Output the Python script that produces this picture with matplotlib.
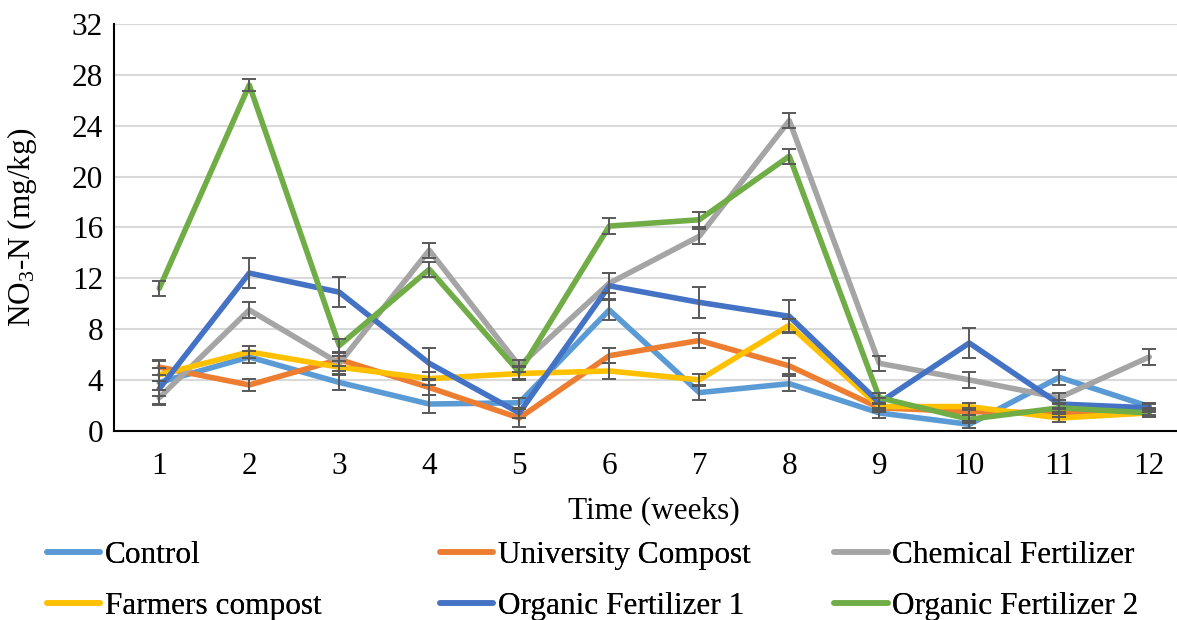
import matplotlib.pyplot as plt
import numpy as np

plt.rcParams['font.family'] = ['Liberation Serif', 'DejaVu Serif']
plt.rcParams['mathtext.fontset'] = 'custom'
plt.rcParams['mathtext.rm'] = 'Liberation Serif'
plt.rcParams['mathtext.it'] = 'Liberation Serif:italic'

weeks = np.arange(1, 13)

control = [3.8, 5.8, 3.8, 2.1, 2.2, 9.5, 3.0, 3.7, 1.4, 0.5, 4.2, 1.9]
control_err = [1.7, 0.5, 0.6, 0.7, 0.4, 0.8, 0.6, 0.6, 0.4, 0.3, 0.6, 0.3]

university = [5.0, 3.6, 5.6, 3.4, 1.0, 5.9, 7.1, 5.1, 1.8, 1.5, 1.4, 1.5]
university_err = [0.6, 0.5, 0.5, 0.6, 0.7, 0.6, 0.6, 0.6, 0.3, 0.3, 0.3, 0.3]

chemical = [2.6, 9.5, 5.3, 14.2, 5.1, 11.6, 15.3, 24.4, 5.3, 4.0, 2.6, 5.8]
chemical_err = [0.6, 0.6, 0.6, 0.6, 0.5, 0.8, 0.6, 0.6, 0.6, 0.6, 0.4, 0.6]

farmers = [4.4, 6.2, 5.0, 4.1, 4.5, 4.7, 4.0, 8.3, 1.9, 1.9, 1.0, 1.4]
farmers_err = [0.5, 0.5, 0.5, 0.5, 0.5, 0.6, 0.5, 0.5, 0.3, 0.3, 0.3, 0.3]

organic1 = [3.3, 12.4, 10.9, 5.3, 1.4, 11.4, 10.1, 9.0, 2.2, 6.9, 2.1, 1.8]
organic1_err = [0.6, 1.2, 1.2, 1.2, 0.4, 1.0, 1.2, 1.3, 0.4, 1.2, 0.3, 0.3]

organic2 = [11.2, 27.2, 6.7, 12.7, 4.6, 16.1, 16.6, 21.6, 2.6, 0.9, 1.8, 1.4]
organic2_err = [0.6, 0.5, 0.5, 0.6, 0.5, 0.6, 0.6, 0.6, 0.4, 0.3, 0.3, 0.3]

series = [
    ("Control", control, control_err, "#5b9bd5"),
    ("University Compost", university, university_err, "#ed7d31"),
    ("Chemical Fertilizer", chemical, chemical_err, "#a5a5a5"),
    ("Farmers compost", farmers, farmers_err, "#ffc000"),
    ("Organic Fertilizer 1", organic1, organic1_err, "#4472c4"),
    ("Organic Fertilizer 2", organic2, organic2_err, "#70ad47"),
]

FS = 22.5

fig = plt.figure(figsize=(11.77, 6.2), dpi=100)
ax = fig.add_axes([0.0971, 0.3053, 0.9176, 0.656])

handles = {}
for name, vals, err, color in series:
    line, = ax.plot(weeks, vals, color=color, linewidth=4.0, solid_joinstyle='round',
                    solid_capstyle='round', zorder=3)
    ax.errorbar(weeks, vals, yerr=err, fmt='none', ecolor='#595959', elinewidth=1.4,
                capsize=5, capthick=1.4, zorder=4)
    handles[name] = line

ax.set_xlim(0.5, 12.5)
ax.set_ylim(0, 32)
ax.set_yticks(np.arange(0, 33, 4))
ax.set_xticks(weeks)
ax.yaxis.grid(True, color='#d9d9d9', linewidth=1.5)
ax.set_axisbelow(True)
for s in ['top', 'right']:
    ax.spines[s].set_visible(False)
ax.spines['left'].set_linewidth(1.5)
ax.spines['bottom'].set_linewidth(1.5)
ax.tick_params(axis='x', length=0, pad=15, labelsize=FS)
ax.tick_params(axis='y', length=0, pad=8, labelsize=FS)

ax.set_xlabel("Time (weeks)", fontsize=FS, labelpad=11)
fig.text(0.019, 0.3053 + 0.656 / 2, r"NO$_{\mathrm{3}}$-N (mg/kg)", fontsize=FS,
         rotation=90, ha='center', va='center')

# legend in three columns, placed separately like the original
columns = [
    ["Control", "Farmers compost"],
    ["University Compost", "Organic Fertilizer 1"],
    ["Chemical Fertilizer", "Organic Fertilizer 2"],
]
col_x = [0.040, 0.374, 0.709]
for names, x in zip(columns, col_x):
    leg = fig.legend([handles[n] for n in names], names, loc='upper left',
                     bbox_to_anchor=(x, 0.128), frameon=False, fontsize=FS,
                     handlelength=1.7, handletextpad=0.15, labelspacing=0.71,
                     borderaxespad=0, borderpad=0)
    fig.add_artist(leg)

fig.savefig("out.png", dpi=100)
